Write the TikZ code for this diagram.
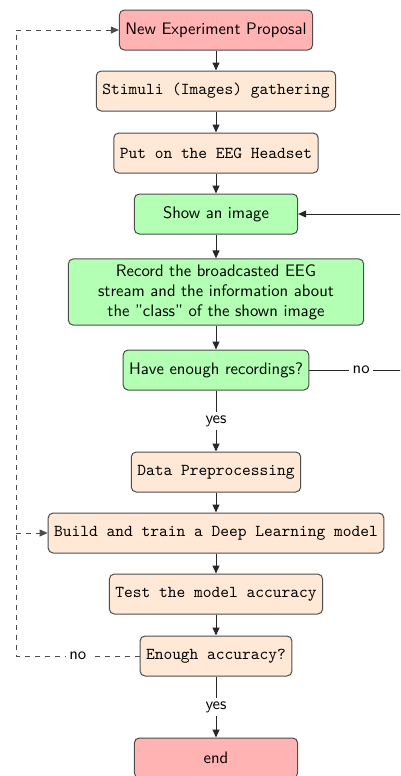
\documentclass[tikz,border=0pt]{standalone}
\usepackage{fontspec}
\usetikzlibrary{arrows.meta,calc}

\definecolor{startred}{HTML}{FFB3B3}
\definecolor{stepgreen}{HTML}{B3FFB3}
\definecolor{steporange}{HTML}{FFE9D6}

\tikzset{
  box/.style={draw=black!70, line width=0.6pt, rounded corners=3pt,
              minimum height=24pt, inner xsep=3.6pt, align=center},
  redbox/.style={box, fill=startred, font=\sffamily},
  greenbox/.style={box, fill=stepgreen, font=\sffamily},
  orangebox/.style={box, fill=steporange, font=\ttfamily},
  flow/.style={draw=black!85, line width=0.6pt, -{Triangle[length=4.8pt,width=4.2pt]}},
  back/.style={flow, dashed, draw=black!70},
  lbl/.style={fill=white, font=\sffamily, inner sep=2pt}
}

\begin{document}
\begin{tikzpicture}[x=0.6pt, y=-0.6pt]
  \useasboundingbox (0,0) rectangle (400,776);
  \clip (0,0) rectangle (400,776);

  % process steps
  \node[redbox]    (prop)  at (216,30)  {New Experiment Proposal};
  \node[orangebox] (stim)  at (216,91)  {Stimuli (Images) gathering};
  \node[orangebox] (eeg)   at (216,153) {Put on the EEG Headset};
  \node[greenbox, minimum width=98pt] (show) at (216,214) {Show an image};
  \node[greenbox, text width=170pt] (rec) at (216,292)
       {Record the broadcasted EEG\\stream and the information about\\the "class" of the shown image};
  \node[greenbox]  (have)  at (216,370) {Have enough recordings?};
  \node[orangebox] (prep)  at (216,472) {Data Preprocessing};
  \node[orangebox] (build) at (216,533) {Build and train a Deep Learning model};
  \node[orangebox] (test)  at (216,594) {Test the model accuracy};
  \node[orangebox] (acc)   at (216,656) {Enough accuracy?};
  \node[redbox, minimum width=98pt] (end) at (216,758) {end};

  % loop turning points
  \coordinate (rloop) at (413,214);
  \coordinate (lbot)  at (16,656);
  \coordinate (ltop)  at (16,30);

  % main flow
  \draw[flow] (prop) -- (stim);
  \draw[flow] (stim) -- (eeg);
  \draw[flow] (eeg) -- (show);
  \draw[flow] (show) -- (rec);
  \draw[flow] (rec) -- (have);
  \draw[flow] (have) -- node[lbl] {yes} (prep);
  \draw[flow] (prep) -- (build);
  \draw[flow] (build) -- (test);
  \draw[flow] (test) -- (acc);
  \draw[flow] (acc) -- node[lbl] {yes} (end);

  % recording loop
  \draw[flow] (have.east) -- node[lbl] {no} (have.east -| rloop) -- (rloop) -- (show.east);

  % retry loops
  \draw[back] (acc.west) -- node[lbl] {no} (lbot) -- (ltop) -- (prop.west);
  \draw[back] (lbot |- build) -- (build.west);
\end{tikzpicture}
\end{document}
